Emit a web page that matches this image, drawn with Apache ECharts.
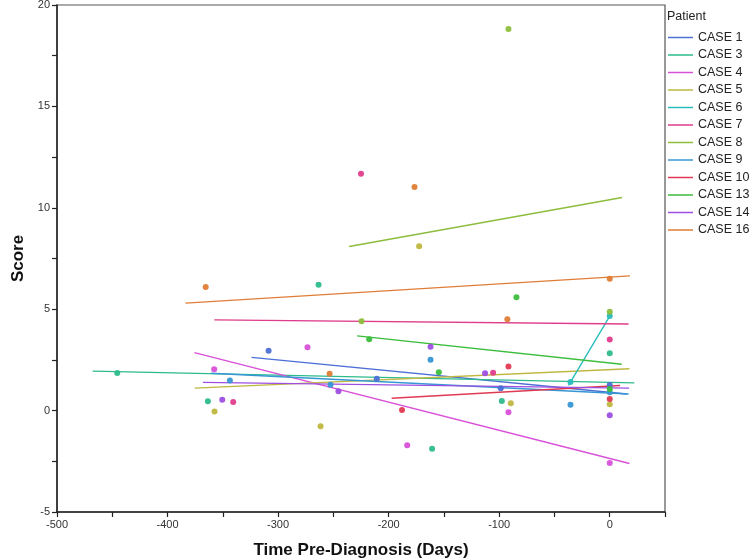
<!DOCTYPE html>
<html><head><meta charset="utf-8">
<script src="https://cdn.jsdelivr.net/npm/echarts@6/dist/echarts.min.js"></script>
<style>html,body{margin:0;padding:0;background:#fff}#c{width:750px;height:560px}</style>
</head><body><div id="c"></div>
<script>
const patients = ['CASE 1','CASE 3','CASE 4','CASE 5','CASE 6','CASE 7','CASE 8','CASE 9','CASE 10','CASE 13','CASE 14','CASE 16'];
const colors = ['#4d6fd6','#2dbb8c','#d950d9','#bfb73f','#2cbcbc','#df3d8c','#8dbd3c','#3797d4','#e03a52','#3cbd3c','#9d4fe0','#df7d36'];
// [days, score]
const case1  = [[-308.6,2.95],[-210.7,1.57],[-98.6,1.10],[0,1.26]];
const case3  = [[-445.5,1.85],[-363.5,0.46],[-263.4,6.21],[-160.7,-1.88],[-97.6,0.47],[0,2.83]];
const case4  = [[-357.8,2.04],[-273.4,3.12],[-183.2,-1.71],[-91.6,-0.08],[0,-2.58]];
const case5  = [[-357.5,-0.05],[-261.6,-0.77],[-172.4,8.10],[-89.5,0.36],[0,0.31]];
const case6  = [[-35.5,1.41],[0,4.66]];
const case7  = [[-340.6,0.42],[-225.0,11.68],[-105.5,1.87],[0,3.51]];
const case8  = [[-224.5,4.40],[-91.6,18.82],[0,4.88]];
const case9  = [[-343.6,1.49],[-252.6,1.28],[-162.1,2.51],[-35.5,0.29],[0,0.90]];
const case10 = [[-187.9,0.03],[-91.6,2.18],[0,0.57]];
const case13 = [[-217.6,3.52],[-154.6,1.89],[-84.4,5.59],[0,1.06]];
const case14 = [[-350.5,0.54],[-245.4,0.95],[-162.1,3.15],[-112.8,1.84],[0,-0.23]];
const case16 = [[-365.5,6.09],[-253.4,1.82],[-176.6,11.03],[-92.6,4.50],[0,6.50]];
const caseData = [case1,case3,case4,case5,case6,case7,case8,case9,case10,case13,case14,case16];
const xTickLabels = [-500,-400,-300,-200,-100,0];
const yTickLabels = [-5,0,5,10,15,20];

function fitLine(pts){
  const n=pts.length;
  let mx=0,my=0; pts.forEach(p=>{mx+=p[0];my+=p[1];}); mx/=n; my/=n;
  let sxy=0,sxx=0; pts.forEach(p=>{sxy+=(p[0]-mx)*(p[1]-my); sxx+=(p[0]-mx)*(p[0]-mx);});
  const b=sxy/sxx;
  const xs=pts.map(p=>p[0]); const lo=Math.min(...xs), hi=Math.max(...xs);
  const e=0.05*(hi-lo);
  const x0=lo-e, x1=hi+e;
  return [[x0,my+b*(x0-mx)],[x1,my+b*(x1-mx)]];
}

const FONT = "'Liberation Sans Narrow','Liberation Sans',Arial,sans-serif";
const series=[];
patients.forEach((name,i)=>{
  series.push({name:name,type:'line',data:fitLine(caseData[i]),symbol:'none',
    lineStyle:{width:1.4,color:colors[i]},itemStyle:{color:colors[i]},silent:true,z:2});
  series.push({name:name,type:'scatter',data:caseData[i],symbolSize:6,
    itemStyle:{color:colors[i],opacity:0.95},z:3});
});

const chart=echarts.init(document.getElementById('c'),null,{renderer:'canvas'});
chart.setOption({
  animation:false,
  backgroundColor:'#fff',
  grid:{left:57,right:85,top:5,bottom:48,containLabel:false,outerBoundsMode:'none',
    show:true,borderColor:'#555',borderWidth:1.2,backgroundColor:'transparent'},
  xAxis:{type:'value',min:-500,max:50,interval:50,
    name:'Time Pre-Diagnosis (Days)',nameLocation:'middle',nameGap:30,
    nameTextStyle:{fontFamily:FONT,fontWeight:'bold',fontSize:17,color:'#111'},
    axisLine:{show:true,onZero:false,lineStyle:{color:'#222',width:1.5}},
    axisTick:{show:true,inside:false,length:5,lineStyle:{color:'#222',width:1.2}},
    axisLabel:{fontFamily:FONT,fontSize:11,color:'#333',margin:7,
      formatter:v=>xTickLabels.indexOf(v)>=0?String(v):''},
    splitLine:{show:false}},
  yAxis:{type:'value',min:-5,max:20,interval:2.5,
    name:'Score',nameLocation:'middle',nameGap:30,nameRotate:90,
    nameTextStyle:{fontFamily:FONT,fontWeight:'bold',fontSize:17,color:'#111'},
    axisLine:{show:true,onZero:false,lineStyle:{color:'#222',width:1.5}},
    axisTick:{show:true,inside:false,length:5,lineStyle:{color:'#222',width:1.2}},
    axisLabel:{fontFamily:FONT,fontSize:11,color:'#333',margin:7,
      formatter:v=>yTickLabels.indexOf(v)>=0?String(v):''},
    splitLine:{show:false}},
  legend:{orient:'vertical',left:668,top:31,itemWidth:25,itemHeight:1.5,itemGap:4.5,
    icon:'rect',data:patients,padding:0,
    textStyle:{fontFamily:"'Liberation Sans',Arial,sans-serif",fontSize:12.5,color:'#222',lineHeight:12}},
  graphic:[{type:'text',left:667,top:10,style:{text:'Patient',fontFamily:"'Liberation Sans',Arial,sans-serif",fontSize:12.5,fill:'#222'}}],
  series:series
});
</script></body></html>
